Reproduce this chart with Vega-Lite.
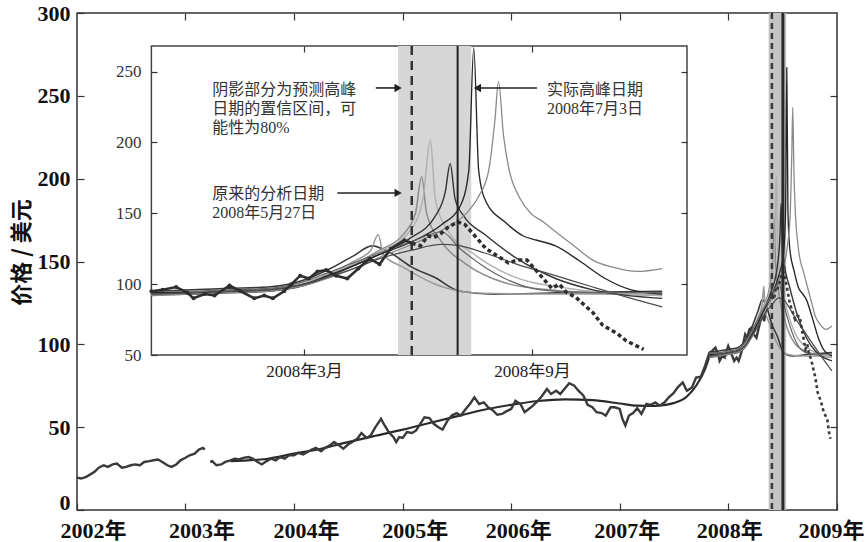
{
"$schema":"https://vega.github.io/schema/vega-lite/v6.json",
"width":760,"height":497,"autosize":"none",
"padding":{"left":77,"top":13,"right":30,"bottom":32},
"background":"white",
"config":{"view":{"stroke":"#333","strokeWidth":1.5},"axis":{"grid":false,"domain":false,"tickColor":"#333","tickWidth":1.2},"font":"Liberation Serif"},
"datasets":{
"price":[
{"d":"2002-01-01","v":19.5,"s":"a"},{"d":"2002-01-15","v":19,"s":"a"},{"d":"2002-02-01","v":20,"s":"a"},{"d":"2002-02-15","v":21.5,"s":"a"},{"d":"2002-03-01","v":23,"s":"a"},{"d":"2002-03-15","v":25.5,"s":"a"},{"d":"2002-04-01","v":27,"s":"a"},{"d":"2002-04-15","v":26,"s":"a"},{"d":"2002-05-01","v":27.5,"s":"a"},{"d":"2002-05-15","v":28,"s":"a"},{"d":"2002-06-01","v":25.5,"s":"a"},{"d":"2002-06-15","v":26,"s":"a"},{"d":"2002-07-01","v":27,"s":"a"},{"d":"2002-07-15","v":27.5,"s":"a"},{"d":"2002-08-01","v":27,"s":"a"},{"d":"2002-08-15","v":29,"s":"a"},{"d":"2002-09-01","v":29.5,"s":"a"},{"d":"2002-09-15","v":30,"s":"a"},{"d":"2002-10-01","v":30.5,"s":"a"},{"d":"2002-10-15","v":29,"s":"a"},{"d":"2002-11-01","v":27,"s":"a"},{"d":"2002-11-15","v":26,"s":"a"},{"d":"2002-12-01","v":27.5,"s":"a"},{"d":"2002-12-15","v":30,"s":"a"},{"d":"2003-01-01","v":31.5,"s":"a"},{"d":"2003-01-15","v":33,"s":"a"},{"d":"2003-02-01","v":34,"s":"a"},{"d":"2003-02-15","v":36.5,"s":"a"},{"d":"2003-03-01","v":37.5,"s":"a"},{"d":"2003-03-07","v":36.5,"s":"a"},
{"d":"2003-03-25","v":29,"s":"b"},{"d":"2003-04-01","v":29.5,"s":"b"},{"d":"2003-04-15","v":27,"s":"b"},{"d":"2003-05-01","v":27.5,"s":"b"},{"d":"2003-05-15","v":29,"s":"b"},{"d":"2003-06-01","v":30,"s":"b"},{"d":"2003-06-15","v":31,"s":"b"},{"d":"2003-07-01","v":30.5,"s":"b"},{"d":"2003-07-15","v":31.5,"s":"b"},{"d":"2003-08-01","v":32,"s":"b"},{"d":"2003-08-15","v":31,"s":"b"},{"d":"2003-09-01","v":29,"s":"b"},{"d":"2003-09-15","v":27.5,"s":"b"},{"d":"2003-10-01","v":29.5,"s":"b"},{"d":"2003-10-15","v":31,"s":"b"},{"d":"2003-11-01","v":30,"s":"b"},{"d":"2003-11-15","v":32,"s":"b"},{"d":"2003-12-01","v":31,"s":"b"},{"d":"2003-12-15","v":33,"s":"b"},
{"d":"2004-01-01","v":33,"s":"b"},{"d":"2004-01-15","v":34.5,"s":"b"},{"d":"2004-02-01","v":33.5,"s":"b"},{"d":"2004-02-15","v":35,"s":"b"},{"d":"2004-03-01","v":36.5,"s":"b"},{"d":"2004-03-15","v":37.5,"s":"b"},{"d":"2004-04-01","v":35.5,"s":"b"},{"d":"2004-04-15","v":37.5,"s":"b"},{"d":"2004-05-01","v":39,"s":"b"},{"d":"2004-05-15","v":41,"s":"b"},{"d":"2004-06-01","v":39,"s":"b"},{"d":"2004-06-15","v":37,"s":"b"},{"d":"2004-07-01","v":39.5,"s":"b"},{"d":"2004-07-15","v":41,"s":"b"},{"d":"2004-08-01","v":43,"s":"b"},{"d":"2004-08-15","v":46.5,"s":"b"},{"d":"2004-09-01","v":43.5,"s":"b"},{"d":"2004-09-15","v":45,"s":"b"},{"d":"2004-10-01","v":50,"s":"b"},{"d":"2004-10-20","v":55,"s":"b"},{"d":"2004-11-01","v":51,"s":"b"},{"d":"2004-11-15","v":47,"s":"b"},{"d":"2004-12-01","v":44,"s":"b"},{"d":"2004-12-10","v":41,"s":"b"},{"d":"2004-12-20","v":44,"s":"b"},
{"d":"2005-01-01","v":43.5,"s":"b"},{"d":"2005-01-15","v":47,"s":"b"},{"d":"2005-02-01","v":46.5,"s":"b"},{"d":"2005-02-15","v":48,"s":"b"},{"d":"2005-03-01","v":52,"s":"b"},{"d":"2005-03-15","v":56,"s":"b"},{"d":"2005-04-01","v":55.5,"s":"b"},{"d":"2005-04-15","v":52,"s":"b"},{"d":"2005-05-01","v":50,"s":"b"},{"d":"2005-05-15","v":48.5,"s":"b"},{"d":"2005-06-01","v":54,"s":"b"},{"d":"2005-06-15","v":57,"s":"b"},{"d":"2005-07-01","v":58.5,"s":"b"},{"d":"2005-07-15","v":57,"s":"b"},{"d":"2005-08-01","v":61,"s":"b"},{"d":"2005-08-15","v":64,"s":"b"},{"d":"2005-08-30","v":68,"s":"b"},{"d":"2005-09-15","v":64,"s":"b"},{"d":"2005-10-01","v":65,"s":"b"},{"d":"2005-10-15","v":62,"s":"b"},{"d":"2005-11-01","v":60,"s":"b"},{"d":"2005-11-15","v":57.5,"s":"b"},{"d":"2005-12-01","v":58,"s":"b"},{"d":"2005-12-15","v":59.5,"s":"b"},
{"d":"2006-01-01","v":61,"s":"b"},{"d":"2006-01-15","v":66,"s":"b"},{"d":"2006-02-01","v":64,"s":"b"},{"d":"2006-02-15","v":59,"s":"b"},{"d":"2006-03-01","v":61,"s":"b"},{"d":"2006-03-15","v":63,"s":"b"},{"d":"2006-04-01","v":66,"s":"b"},{"d":"2006-04-15","v":69,"s":"b"},{"d":"2006-05-01","v":73,"s":"b"},{"d":"2006-05-15","v":70,"s":"b"},{"d":"2006-06-01","v":72,"s":"b"},{"d":"2006-06-15","v":70,"s":"b"},{"d":"2006-07-01","v":73.5,"s":"b"},{"d":"2006-07-15","v":76.5,"s":"b"},{"d":"2006-08-01","v":75,"s":"b"},{"d":"2006-08-15","v":72,"s":"b"},{"d":"2006-09-01","v":69,"s":"b"},{"d":"2006-09-15","v":63.5,"s":"b"},{"d":"2006-10-01","v":62,"s":"b"},{"d":"2006-10-15","v":59,"s":"b"},{"d":"2006-11-01","v":58.5,"s":"b"},{"d":"2006-11-15","v":57,"s":"b"},{"d":"2006-12-01","v":62,"s":"b"},{"d":"2006-12-15","v":62,"s":"b"},
{"d":"2007-01-01","v":61,"s":"b"},{"d":"2007-01-10","v":55,"s":"b"},{"d":"2007-01-20","v":51,"s":"b"},{"d":"2007-02-01","v":57,"s":"b"},{"d":"2007-02-15","v":58.5,"s":"b"},{"d":"2007-03-01","v":61.5,"s":"b"},{"d":"2007-03-15","v":58,"s":"b"},{"d":"2007-04-01","v":64,"s":"b"},{"d":"2007-04-15","v":63.5,"s":"b"},{"d":"2007-05-01","v":65,"s":"b"},{"d":"2007-05-15","v":63,"s":"b"},{"d":"2007-06-01","v":65,"s":"b"},{"d":"2007-06-15","v":68,"s":"b"},{"d":"2007-07-01","v":70.5,"s":"b"},{"d":"2007-07-15","v":74,"s":"b"},{"d":"2007-08-01","v":77,"s":"b"},{"d":"2007-08-15","v":72,"s":"b"},{"d":"2007-09-01","v":74,"s":"b"},{"d":"2007-09-15","v":80,"s":"b"},{"d":"2007-10-01","v":80.5,"s":"b"},{"d":"2007-10-15","v":87,"s":"b"},{"d":"2007-10-30","v":95,"s":"b"},{"d":"2007-11-08","v":96,"s":"b"},{"d":"2007-11-19","v":98,"s":"b"},{"d":"2007-11-28","v":94,"s":"b"},{"d":"2007-12-03","v":90,"s":"b"},{"d":"2007-12-12","v":93,"s":"b"},{"d":"2007-12-20","v":92,"s":"b"},
{"d":"2008-01-01","v":99,"s":"b"},{"d":"2008-01-10","v":95,"s":"b"},{"d":"2008-01-21","v":90,"s":"b"},{"d":"2008-01-29","v":92,"s":"b"},{"d":"2008-02-05","v":90,"s":"b"},{"d":"2008-02-14","v":95,"s":"b"},{"d":"2008-02-20","v":100,"s":"b"},{"d":"2008-02-27","v":106,"s":"b"},{"d":"2008-03-05","v":104,"s":"b"},{"d":"2008-03-12","v":109,"s":"b"},{"d":"2008-03-19","v":110,"s":"b"},{"d":"2008-03-27","v":106,"s":"b"},{"d":"2008-04-05","v":104,"s":"b"},{"d":"2008-04-14","v":111,"s":"b"},{"d":"2008-04-23","v":118,"s":"b"},{"d":"2008-05-01","v":114,"s":"b"},{"d":"2008-05-10","v":125,"s":"b"},{"d":"2008-05-21","v":131,"s":"b"},{"d":"2008-05-27","v":129,"s":"b"},
{"d":"2008-05-27","v":129,"s":"c"},{"d":"2008-06-03","v":127,"s":"c"},{"d":"2008-06-09","v":134,"s":"c"},{"d":"2008-06-14","v":133,"s":"c"},{"d":"2008-06-20","v":136,"s":"c"},{"d":"2008-06-25","v":140,"s":"c"},{"d":"2008-07-03","v":144,"s":"c"},{"d":"2008-07-09","v":142,"s":"c"},{"d":"2008-07-15","v":136,"s":"c"},{"d":"2008-07-21","v":130,"s":"c"},{"d":"2008-07-26","v":125,"s":"c"},{"d":"2008-08-04","v":120,"s":"c"},{"d":"2008-08-13","v":115,"s":"c"},{"d":"2008-08-20","v":117,"s":"c"},{"d":"2008-08-28","v":117,"s":"c"},{"d":"2008-09-06","v":108,"s":"c"},{"d":"2008-09-12","v":102,"s":"c"},{"d":"2008-09-17","v":97,"s":"c"},{"d":"2008-09-23","v":100,"s":"c"},{"d":"2008-09-29","v":94,"s":"c"},{"d":"2008-10-06","v":91,"s":"c"},{"d":"2008-10-11","v":87,"s":"c"},{"d":"2008-10-20","v":80,"s":"c"},{"d":"2008-10-28","v":71,"s":"c"},{"d":"2008-11-03","v":68,"s":"c"},{"d":"2008-11-09","v":65,"s":"c"},{"d":"2008-11-16","v":60,"s":"c"},{"d":"2008-11-23","v":57,"s":"c"},{"d":"2008-11-30","v":54,"s":"c"},{"d":"2008-12-05","v":47,"s":"c"},{"d":"2008-12-10","v":43,"s":"c"}
],
"trend":[
{"d":"2003-06-01","v":29.5},{"d":"2003-10-01","v":30.8},{"d":"2004-01-01","v":34},{"d":"2004-04-01","v":37},{"d":"2004-07-01","v":41},{"d":"2004-10-01","v":44.8},{"d":"2005-01-01","v":48.5},{"d":"2005-04-01","v":52.5},{"d":"2005-07-01","v":56.5},{"d":"2005-10-01","v":60.5},{"d":"2006-01-01","v":63.5},{"d":"2006-04-01","v":65.8},{"d":"2006-07-01","v":66.8},{"d":"2006-10-01","v":66.3},{"d":"2007-01-01","v":64.3},{"d":"2007-03-01","v":63},{"d":"2007-05-01","v":62.8},{"d":"2007-07-01","v":64.5},{"d":"2007-08-15","v":68.5},{"d":"2007-09-15","v":75},{"d":"2007-10-15","v":85},{"d":"2007-10-30","v":93}
],
"fits":[
{"f":"F1","d":"2007-10-30","v":95},{"f":"F1","d":"2007-12-01","v":96},{"f":"F1","d":"2008-01-01","v":97},{"f":"F1","d":"2008-02-01","v":98},{"f":"F1","d":"2008-03-01","v":103},{"f":"F1","d":"2008-03-20","v":110},{"f":"F1","d":"2008-04-10","v":120},{"f":"F1","d":"2008-04-25","v":127},{"f":"F1","d":"2008-05-10","v":122},{"f":"F1","d":"2008-05-27","v":112},{"f":"F1","d":"2008-06-14","v":105},{"f":"F1","d":"2008-07-05","v":95},{"f":"F1","d":"2008-08-01","v":93},{"f":"F1","d":"2008-10-01","v":94},{"f":"F1","d":"2008-12-15","v":95},
{"f":"F2","d":"2007-10-30","v":92},{"f":"F2","d":"2007-12-01","v":93},{"f":"F2","d":"2008-01-01","v":94},{"f":"F2","d":"2008-02-01","v":95},{"f":"F2","d":"2008-03-01","v":101},{"f":"F2","d":"2008-03-20","v":107},{"f":"F2","d":"2008-04-10","v":116},{"f":"F2","d":"2008-04-24","v":124},{"f":"F2","d":"2008-04-30","v":135},{"f":"F2","d":"2008-05-04","v":121},{"f":"F2","d":"2008-05-20","v":112},{"f":"F2","d":"2008-06-15","v":100},{"f":"F2","d":"2008-07-15","v":94},{"f":"F2","d":"2008-09-01","v":93},{"f":"F2","d":"2008-12-15","v":93},
{"f":"F3","d":"2007-10-30","v":93},{"f":"F3","d":"2007-12-01","v":94},{"f":"F3","d":"2008-01-01","v":95},{"f":"F3","d":"2008-02-01","v":96},{"f":"F3","d":"2008-03-01","v":100},{"f":"F3","d":"2008-03-20","v":106},{"f":"F3","d":"2008-04-10","v":114},{"f":"F3","d":"2008-05-01","v":124},{"f":"F3","d":"2008-05-20","v":135},{"f":"F3","d":"2008-05-30","v":150},{"f":"F3","d":"2008-06-04","v":176},{"f":"F3","d":"2008-06-08","v":150},{"f":"F3","d":"2008-06-20","v":130},{"f":"F3","d":"2008-07-10","v":114},{"f":"F3","d":"2008-08-10","v":101},{"f":"F3","d":"2008-09-15","v":96},{"f":"F3","d":"2008-12-15","v":92},
{"f":"F4","d":"2007-10-30","v":94},{"f":"F4","d":"2007-12-01","v":95},{"f":"F4","d":"2008-01-01","v":95.5},{"f":"F4","d":"2008-02-01","v":96.5},{"f":"F4","d":"2008-03-01","v":101},{"f":"F4","d":"2008-03-20","v":107},{"f":"F4","d":"2008-04-10","v":114},{"f":"F4","d":"2008-05-01","v":123},{"f":"F4","d":"2008-05-25","v":137},{"f":"F4","d":"2008-06-05","v":160},{"f":"F4","d":"2008-06-11","v":202},{"f":"F4","d":"2008-06-15","v":160},{"f":"F4","d":"2008-06-25","v":138},{"f":"F4","d":"2008-07-15","v":122},{"f":"F4","d":"2008-08-15","v":106},{"f":"F4","d":"2008-10-01","v":97},{"f":"F4","d":"2008-12-15","v":92},
{"f":"F5","d":"2007-10-30","v":93},{"f":"F5","d":"2007-12-01","v":93},{"f":"F5","d":"2008-01-01","v":94},{"f":"F5","d":"2008-02-01","v":95},{"f":"F5","d":"2008-03-01","v":99},{"f":"F5","d":"2008-03-20","v":105},{"f":"F5","d":"2008-04-10","v":113},{"f":"F5","d":"2008-05-01","v":121},{"f":"F5","d":"2008-05-25","v":132},{"f":"F5","d":"2008-06-15","v":148},{"f":"F5","d":"2008-06-23","v":165},{"f":"F5","d":"2008-06-27","v":185},{"f":"F5","d":"2008-07-01","v":160},{"f":"F5","d":"2008-07-08","v":148},{"f":"F5","d":"2008-07-25","v":135},{"f":"F5","d":"2008-08-20","v":118},{"f":"F5","d":"2008-09-20","v":104},{"f":"F5","d":"2008-10-20","v":96},{"f":"F5","d":"2008-12-15","v":90},
{"f":"F6","d":"2007-10-30","v":94},{"f":"F6","d":"2007-12-01","v":94},{"f":"F6","d":"2008-01-01","v":95},{"f":"F6","d":"2008-02-01","v":96},{"f":"F6","d":"2008-03-01","v":100},{"f":"F6","d":"2008-03-20","v":106},{"f":"F6","d":"2008-04-10","v":113},{"f":"F6","d":"2008-05-01","v":121},{"f":"F6","d":"2008-05-27","v":130},{"f":"F6","d":"2008-06-20","v":142},{"f":"F6","d":"2008-07-05","v":155},{"f":"F6","d":"2008-07-12","v":180},{"f":"F6","d":"2008-07-16","v":267},{"f":"F6","d":"2008-07-20","v":180},{"f":"F6","d":"2008-07-26","v":158},{"f":"F6","d":"2008-08-10","v":144},{"f":"F6","d":"2008-08-25","v":134},{"f":"F6","d":"2008-09-05","v":131},{"f":"F6","d":"2008-09-20","v":127},{"f":"F6","d":"2008-10-10","v":116},{"f":"F6","d":"2008-10-30","v":104},{"f":"F6","d":"2008-11-20","v":96},{"f":"F6","d":"2008-12-15","v":93},
{"f":"F7","d":"2007-10-30","v":92},{"f":"F7","d":"2007-12-01","v":93},{"f":"F7","d":"2008-01-01","v":94},{"f":"F7","d":"2008-02-01","v":95},{"f":"F7","d":"2008-03-01","v":99},{"f":"F7","d":"2008-03-20","v":104},{"f":"F7","d":"2008-04-10","v":111},{"f":"F7","d":"2008-05-01","v":119},{"f":"F7","d":"2008-05-27","v":128},{"f":"F7","d":"2008-06-20","v":138},{"f":"F7","d":"2008-07-10","v":150},{"f":"F7","d":"2008-07-20","v":162},{"f":"F7","d":"2008-07-28","v":180},{"f":"F7","d":"2008-08-02","v":215},{"f":"F7","d":"2008-08-05","v":243},{"f":"F7","d":"2008-08-09","v":205},{"f":"F7","d":"2008-08-13","v":183},{"f":"F7","d":"2008-08-22","v":161},{"f":"F7","d":"2008-08-31","v":150},{"f":"F7","d":"2008-09-10","v":144},{"f":"F7","d":"2008-09-20","v":137},{"f":"F7","d":"2008-10-05","v":127},{"f":"F7","d":"2008-10-20","v":117},{"f":"F7","d":"2008-11-05","v":112},{"f":"F7","d":"2008-11-25","v":109},{"f":"F7","d":"2008-12-15","v":111},
{"f":"F8","d":"2007-10-30","v":93},{"f":"F8","d":"2007-12-01","v":94},{"f":"F8","d":"2008-01-01","v":95},{"f":"F8","d":"2008-02-01","v":96},{"f":"F8","d":"2008-03-01","v":100},{"f":"F8","d":"2008-03-20","v":105},{"f":"F8","d":"2008-04-10","v":111},{"f":"F8","d":"2008-05-01","v":118},{"f":"F8","d":"2008-05-27","v":124},{"f":"F8","d":"2008-06-20","v":128},{"f":"F8","d":"2008-07-05","v":127},{"f":"F8","d":"2008-07-25","v":122},{"f":"F8","d":"2008-08-20","v":114},{"f":"F8","d":"2008-09-20","v":106},{"f":"F8","d":"2008-10-20","v":98},{"f":"F8","d":"2008-11-20","v":90},{"f":"F8","d":"2008-12-15","v":84},
{"f":"F9","d":"2007-10-30","v":95},{"f":"F9","d":"2007-12-01","v":95},{"f":"F9","d":"2008-01-01","v":96},{"f":"F9","d":"2008-02-01","v":97},{"f":"F9","d":"2008-03-01","v":102},{"f":"F9","d":"2008-03-20","v":108},{"f":"F9","d":"2008-04-10","v":115},{"f":"F9","d":"2008-05-01","v":122},{"f":"F9","d":"2008-05-27","v":130},{"f":"F9","d":"2008-06-20","v":137},{"f":"F9","d":"2008-07-05","v":125},{"f":"F9","d":"2008-07-25","v":112},{"f":"F9","d":"2008-08-10","v":104},{"f":"F9","d":"2008-09-08","v":96},{"f":"F9","d":"2008-10-15","v":94},{"f":"F9","d":"2008-12-15","v":94}
],
"notes":[
{"d":"2007-12-18","v":237,"t":"阴影部分为预测高峰"},{"d":"2007-12-18","v":223.6,"t":"日期的置信区间，可"},{"d":"2007-12-18","v":210.2,"t":"能性为80%"},{"d":"2007-12-18","v":163.6,"t":"原来的分析日期"},{"d":"2007-12-18","v":150.2,"t":"2008年5月27日"},{"d":"2008-09-13","v":237,"t":"实际高峰日期"},{"d":"2008-09-13","v":223.6,"t":"2008年7月3日"}
],
"arrows":[
{"d":"2008-04-28","d2":"2008-05-16","v":238.5,"h":"r"},{"d":"2008-03-28","d2":"2008-05-16","v":164.4,"h":"r"},{"d":"2008-09-05","d2":"2008-07-19","v":238.5,"h":"l"}
]
},
"resolve":{"scale":{"x":"independent","y":"independent"}},
"layer":[
{
"data":{"values":[{}]},"mark":{"type":"rect","color":"#c4c4c4"},
"encoding":{
"x":{"datum":{"year":2008,"month":5,"date":16,"utc":true},"type":"temporal","scale":{"type":"utc","nice":false,"domain":[{"year":2002,"month":1,"date":1,"utc":true},{"year":2009,"month":1,"date":1,"utc":true}]},"axis":null},
"x2":{"datum":{"year":2008,"month":7,"date":14,"utc":true}},
"y":{"datum":0,"type":"quantitative","scale":{"domain":[0,300],"nice":false,"zero":false},"axis":null},
"y2":{"datum":300}
}
},
{
"encoding":{
"x":{"field":"d","type":"temporal","scale":{"type":"utc","nice":false,"domain":[{"year":2002,"month":1,"date":1,"utc":true},{"year":2009,"month":1,"date":1,"utc":true}]},
"axis":{"orient":"bottom","offset":-7,"tickSize":7,"values":[{"year":2002,"month":1,"date":1,"utc":true},{"year":2003,"month":1,"date":1,"utc":true},{"year":2004,"month":1,"date":1,"utc":true},{"year":2005,"month":1,"date":1,"utc":true},{"year":2006,"month":1,"date":1,"utc":true},{"year":2007,"month":1,"date":1,"utc":true},{"year":2008,"month":1,"date":1,"utc":true},{"year":2009,"month":1,"date":1,"utc":true}],"labelExpr":"utcFormat(datum.value, '%Y') + '年'","labelFont":"Liberation Serif, Noto Sans CJK SC","labelFontSize":22,"labelFontWeight":"bold","labelColor":"#111","labelPadding":10,"labelOffset":{"condition":[{"test":"utcyear(datum.value) < 2004","value":16},{"test":"utcyear(datum.value) < 2006","value":12},{"test":"utcyear(datum.value) < 2008","value":7},{"test":"utcyear(datum.value) < 2009","value":1}],"value":-6},"labelFlush":false,"labelOverlap":false,"title":null,"zindex":1}},
"y":{"field":"v","type":"quantitative","scale":{"domain":[0,300],"nice":false,"zero":false},
"axis":{"orient":"left","offset":-7,"tickSize":7,"values":[0,50,100,150,200,250,300],"labelFont":"Liberation Serif","labelFontSize":22,"labelFontWeight":"bold","labelColor":"#111","labelPadding":7,"labelOffset":{"condition":{"test":"datum.value == 0","value":-8},"value":0},"labelOverlap":false,"title":"价格 / 美元","titleFont":"Noto Sans CJK SC","titleFontSize":22,"titleFontWeight":"bold","titleColor":"#111","titleAngle":-90,"titleX":-63,"titleY":239,"titleAlign":"center","titleBaseline":"middle","zindex":1}}
},
"layer":[
{"data":{"name":"trend"},"mark":{"type":"line","color":"#2a2a2a","strokeWidth":2.2,"interpolate":"monotone"}},
{"data":{"name":"price"},"transform":[{"filter":{"field":"s","oneOf":["a","b"]}}],"mark":{"type":"line","color":"#3a3a3a","strokeWidth":2.4},"encoding":{"detail":{"field":"s"}}},
{"data":{"name":"fits"},"mark":{"type":"line","interpolate":"monotone"},"encoding":{
"color":{"field":"f","type":"nominal","scale":{"domain":["F1","F2","F3","F4","F5","F6","F7","F8","F9"],"range":["#3a3a3a","#9a9a9a","#8c8c8c","#b0b0b0","#333333","#262626","#8a8a8a","#4d4d4d","#666666"]},"legend":null},
"strokeWidth":{"field":"f","type":"nominal","scale":{"domain":["F1","F2","F3","F4","F5","F6","F7","F8","F9"],"range":[1.6,1.2,1.3,1.2,1.8,2.2,1.3,1.5,1.4]},"legend":null}}}
]
},
{
"data":{"name":"price"},"transform":[{"filter":{"field":"s","equal":"c"}}],"mark":{"type":"line","color":"#3a3a3a","strokeWidth":2.6,"strokeDash":[3,3]},
"encoding":{
"x":{"field":"d","type":"temporal","scale":{"type":"utc","nice":false,"domain":[{"year":2002,"month":1,"date":1,"utc":true},{"year":2009,"month":1,"date":1,"utc":true}]},
"axis":{"orient":"top","offset":-7,"tickSize":7,"values":[{"year":2003,"month":1,"date":1,"utc":true},{"year":2004,"month":1,"date":1,"utc":true},{"year":2005,"month":1,"date":1,"utc":true},{"year":2006,"month":1,"date":1,"utc":true},{"year":2007,"month":1,"date":1,"utc":true},{"year":2008,"month":1,"date":1,"utc":true}],"labels":false,"title":null,"zindex":1}},
"y":{"field":"v","type":"quantitative","scale":{"domain":[0,300],"nice":false,"zero":false},
"axis":{"orient":"right","offset":-7,"tickSize":7,"values":[50,100,150,200,250],"labels":false,"title":null,"zindex":1}}
}
},
{
"data":{"values":[{"k":"dash"},{"k":"solid"}]},
"layer":[
{"transform":[{"filter":{"field":"k","equal":"dash"}}],"mark":{"type":"rule","color":"#3a3a3a","strokeWidth":2.5,"strokeDash":[6,4]},"encoding":{"x":{"datum":{"year":2008,"month":5,"date":27,"utc":true},"type":"temporal","scale":{"type":"utc","nice":false,"domain":[{"year":2002,"month":1,"date":1,"utc":true},{"year":2009,"month":1,"date":1,"utc":true}]},"axis":null}}},
{"transform":[{"filter":{"field":"k","equal":"solid"}}],"mark":{"type":"rule","color":"#2a2a2a","strokeWidth":3},"encoding":{"x":{"datum":{"year":2008,"month":7,"date":3,"utc":true},"type":"temporal","scale":{"type":"utc","nice":false,"domain":[{"year":2002,"month":1,"date":1,"utc":true},{"year":2009,"month":1,"date":1,"utc":true}]},"axis":null}}}
]
},
{
"data":{"values":[{}]},
"mark":{"type":"rect","fill":"white","stroke":"#444","strokeWidth":1.5},
"encoding":{
"x":{"datum":{"year":2007,"month":10,"date":30,"utc":true},"type":"temporal","scale":{"type":"utc","nice":false,"domain":[{"year":2007,"month":8,"date":31,"utc":true},{"year":2009,"month":5,"date":5,"utc":true}]},
"axis":{"orient":"top","offset":-39,"tickSize":6,"values":[{"year":2008,"month":3,"date":1,"utc":true},{"year":2008,"month":9,"date":1,"utc":true}],"labels":false,"title":null,"zindex":1}},
"x2":{"datum":{"year":2009,"month":1,"date":4,"utc":true}},
"y":{"datum":50,"type":"quantitative","scale":{"domain":[-59.4,291.4],"nice":false,"zero":false},
"axis":{"orient":"right","offset":-156,"tickSize":6,"values":[100,150,200,250],"labels":false,"title":null,"zindex":1}},
"y2":{"datum":268.1}
}
},
{
"data":{"values":[{}]},"mark":{"type":"rect","color":"#d6d6d6"},
"encoding":{
"x":{"datum":{"year":2008,"month":5,"date":16,"utc":true},"type":"temporal","scale":{"type":"utc","nice":false,"domain":[{"year":2007,"month":8,"date":31,"utc":true},{"year":2009,"month":5,"date":5,"utc":true}]},"axis":null},
"x2":{"datum":{"year":2008,"month":7,"date":14,"utc":true}},
"y":{"datum":50,"type":"quantitative","scale":{"domain":[-59.4,291.4],"nice":false,"zero":false},"axis":null},
"y2":{"datum":268.1}
}
},
{
"encoding":{
"x":{"field":"d","type":"temporal","scale":{"type":"utc","nice":false,"domain":[{"year":2007,"month":8,"date":31,"utc":true},{"year":2009,"month":5,"date":5,"utc":true}]},
"axis":{"orient":"bottom","offset":-161,"tickSize":6,"values":[{"year":2008,"month":3,"date":1,"utc":true},{"year":2008,"month":9,"date":1,"utc":true}],"labelExpr":"utcFormat(datum.value, '%Y年%-m月')","labelFont":"Liberation Serif, Noto Sans CJK SC","labelFontSize":17,"labelColor":"#222","labelPadding":8,"labelFlush":false,"title":null,"zindex":1}},
"y":{"field":"v","type":"quantitative","scale":{"domain":[-59.4,291.4],"nice":false,"zero":false},
"axis":{"orient":"left","offset":-80,"tickSize":6,"values":[50,100,150,200,250],"labelFont":"Liberation Serif","labelFontSize":17,"labelColor":"#333","labelPadding":10,"title":null,"zindex":1}}
},
"layer":[
{"data":{"name":"fits"},"transform":[{"filter":{"field":"d","gte":{"year":2007,"month":10,"date":30,"utc":true}}}],"mark":{"type":"line","interpolate":"monotone"},"encoding":{
"color":{"field":"f","type":"nominal","scale":{"domain":["F1","F2","F3","F4","F5","F6","F7","F8","F9"],"range":["#3a3a3a","#9a9a9a","#8c8c8c","#b0b0b0","#333333","#262626","#8a8a8a","#4d4d4d","#666666"]},"legend":null},
"strokeWidth":{"field":"f","type":"nominal","scale":{"domain":["F1","F2","F3","F4","F5","F6","F7","F8","F9"],"range":[1.6,1.2,1.3,1.2,1.8,2.2,1.3,1.5,1.4]},"legend":null}}},
{"data":{"name":"price"},"transform":[{"filter":{"field":"d","gte":{"year":2007,"month":10,"date":30,"utc":true}}},{"filter":{"field":"s","equal":"b"}}],"mark":{"type":"line","color":"#2e2e2e","strokeWidth":2.6,"point":{"filled":true,"size":16,"color":"#2e2e2e"}}},
{"data":{"name":"price"},"transform":[{"filter":{"field":"s","equal":"c"}},{"filter":{"field":"v","gte":50}}],"mark":{"type":"line","color":"#2e2e2e","strokeWidth":3.5,"strokeDash":[4,3]}},
{"data":{"name":"notes"},"mark":{"type":"text","align":"left","baseline":"middle","font":"Liberation Serif, Noto Sans CJK SC","fontSize":16,"color":"#333"},"encoding":{"text":{"field":"t"}}},
{"data":{"name":"arrows"},"mark":{"type":"rule","color":"#222","strokeWidth":1.6},"encoding":{"x2":{"field":"d2"}}},
{"data":{"name":"arrows"},"mark":{"type":"point","filled":true,"color":"#222","size":70,"opacity":1},"encoding":{"x":{"field":"d2","type":"temporal"},"shape":{"field":"h","type":"nominal","scale":{"domain":["r","l"],"range":["triangle-right","triangle-left"]},"legend":null}}}
]
},
{
"data":{"values":[{"k":"dash"},{"k":"solid"}]},
"layer":[
{"transform":[{"filter":{"field":"k","equal":"dash"}}],"mark":{"type":"rule","color":"#333","strokeWidth":2.5,"strokeDash":[9,6]},"encoding":{"x":{"datum":{"year":2008,"month":5,"date":27,"utc":true},"type":"temporal","scale":{"type":"utc","nice":false,"domain":[{"year":2007,"month":8,"date":31,"utc":true},{"year":2009,"month":5,"date":5,"utc":true}]},"axis":null},"y":{"datum":50,"type":"quantitative","scale":{"domain":[-59.4,291.4],"nice":false,"zero":false},"axis":null},"y2":{"datum":268.1}}},
{"transform":[{"filter":{"field":"k","equal":"solid"}}],"mark":{"type":"rule","color":"#222","strokeWidth":2},"encoding":{"x":{"datum":{"year":2008,"month":7,"date":3,"utc":true},"type":"temporal","scale":{"type":"utc","nice":false,"domain":[{"year":2007,"month":8,"date":31,"utc":true},{"year":2009,"month":5,"date":5,"utc":true}]},"axis":null},"y":{"datum":50,"type":"quantitative","scale":{"domain":[-59.4,291.4],"nice":false,"zero":false},"axis":null},"y2":{"datum":268.1}}}
]
}
]
}
